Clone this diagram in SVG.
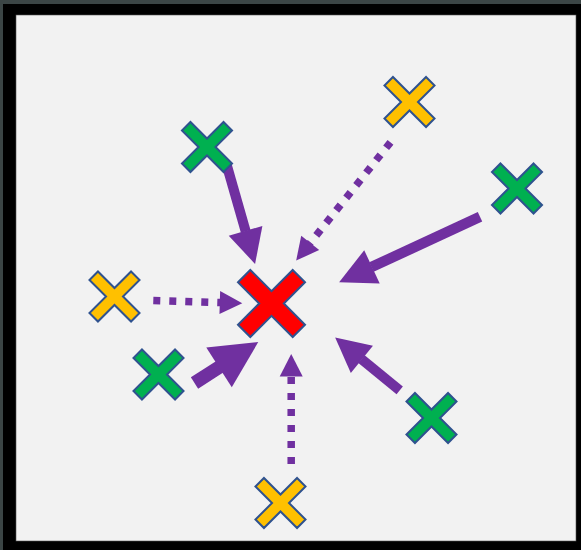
<svg xmlns="http://www.w3.org/2000/svg" xmlns:xlink="http://www.w3.org/1999/xlink" width="581" height="550" viewBox="0 0 581 550">
  <style>
    .x { stroke: #2f528f; stroke-width: 2; stroke-linejoin: miter; }
    .red { fill: #ff0000; }
    .green { fill: #00b050; }
    .yellow { fill: #ffc000; }
    .solid { fill: none; stroke: #7030a0; marker-end: url(#headSolid); }
    .dotted { fill: none; stroke: #7030a0; stroke-width: 7.5; stroke-dasharray: 7 9; marker-end: url(#headDot); }
  </style>
  <defs>
    <path id="xs" transform="rotate(45)" d="M-6,-29.4 H6 V-6 H29.4 V6 H6 V29.4 H-6 V6 H-29.4 V-6 H-6 Z"/>
    <path id="xl" transform="rotate(45)" d="M-8.7,-38.7 H8.7 V-8.7 H38.7 V8.7 H8.7 V38.7 H-8.7 V8.7 H-38.7 V-8.7 H-8.7 Z"/>
    <marker id="headSolid" markerUnits="strokeWidth" refX="0.05" refY="0" orient="auto" overflow="visible">
      <path d="M0,-1.75 L3.45,0 L0,1.75 Z" fill="#7030a0"/>
    </marker>
    <marker id="headDot" markerUnits="userSpaceOnUse" refX="0.5" refY="0" orient="auto" overflow="visible">
      <path d="M0,-11.5 L22.5,0 L0,11.5 Z" fill="#7030a0"/>
    </marker>
  </defs>

  <rect x="0" y="0" width="581" height="550" fill="#3b4545"/>
  <rect x="3" y="4" width="578" height="546" fill="#000000"/>
  <rect x="16" y="15" width="560" height="526" fill="#f2f2f2" stroke="#555" stroke-width="0.6"/>

  <g id="connectors">
    <path class="solid" stroke-width="10" d="M227,166 L245.7,231.3"/>
    <path class="dotted" d="M390.5,142.3 L309.9,243.3"/>
    <path class="solid" stroke-width="10.5" d="M480,216.7 L371.5,267.1"/>
    <path class="dotted" d="M153.3,300.6 L220.3,302.6"/>
    <path class="solid" stroke-width="13.5" d="M194.5,383 L219.6,366.9"/>
    <path class="solid" stroke-width="10" d="M399.7,390.3 L361.5,359.1"/>
    <path class="dotted" d="M291.2,464 L291.2,376"/>
  </g>

  <g id="center-red"><use xlink:href="#xl" x="271.5" y="303.5" class="x red"/></g>
  <g id="green-top"><use xlink:href="#xs" x="207" y="147" class="x green"/></g>
  <g id="yellow-top-right"><use xlink:href="#xs" x="409.5" y="102" class="x yellow"/></g>
  <g id="green-right"><use xlink:href="#xs" x="517" y="188.5" class="x green"/></g>
  <g id="yellow-left"><use xlink:href="#xs" x="114.5" y="296.5" class="x yellow"/></g>
  <g id="green-left-bottom"><use xlink:href="#xs" x="158.5" y="374.5" class="x green"/></g>
  <g id="green-bottom-right"><use xlink:href="#xs" x="431.5" y="418" class="x green"/></g>
  <g id="yellow-bottom"><use xlink:href="#xs" x="280.5" y="503" class="x yellow"/></g>
</svg>
